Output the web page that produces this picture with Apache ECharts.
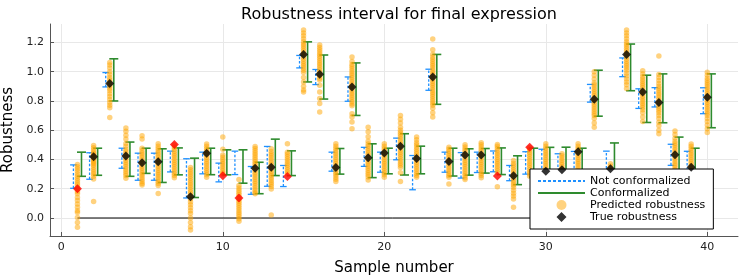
<!DOCTYPE html>
<html><head><meta charset="utf-8">
<script src="https://cdn.jsdelivr.net/npm/echarts@6/dist/echarts.min.js"></script>
<style>html,body{margin:0;padding:0;background:#fff}#c{width:747px;height:280px}</style>
</head><body><div id="c"></div>
<script>
const samples = [];
for (let s = 1; s <= 40; s++) samples.push(s);

const ncLow  = [0.203,0.265,0.896,0.340,0.258,0.258,0.315,0.137,0.302,0.247,0.297,0.162,0.217,0.215,1.026,0.912,0.320,0.798,0.353,0.313,0.398,0.193,0.873,0.313,0.273,0.311,0.316,0.255,0.300,0.310,0.290,0.310,0.792,0.280,0.966,0.749,0.759,0.360,0.270,0.713];
const ncHigh = [0.363,0.446,0.994,0.477,0.443,0.443,0.457,0.405,0.450,0.375,0.457,0.352,0.489,0.359,1.111,1.015,0.450,0.964,0.483,0.450,0.546,0.427,1.017,0.450,0.447,0.450,0.458,0.359,0.453,0.470,0.439,0.455,0.913,0.457,1.094,0.883,0.891,0.504,0.456,0.890];
const cLow   = [0.285,0.292,0.800,0.285,0.305,0.243,0.295,0.140,0.296,0.295,0.238,0.166,0.290,0.290,0.930,0.813,0.300,0.701,0.276,0.302,0.294,0.302,0.777,0.287,0.293,0.307,0.297,0.228,0.280,0.280,0.270,0.290,0.696,0.250,0.870,0.653,0.651,0.300,0.250,0.617];
const cHigh  = [0.450,0.477,1.088,0.519,0.477,0.473,0.479,0.409,0.477,0.466,0.466,0.381,0.539,0.459,1.204,1.114,0.475,1.060,0.507,0.477,0.576,0.491,1.118,0.477,0.473,0.475,0.479,0.425,0.477,0.483,0.484,0.477,1.010,0.513,1.189,0.976,0.985,0.553,0.477,0.985];
const truth  = [0.200,0.418,0.919,0.424,0.377,0.385,0.503,0.146,0.443,0.288,0.137,0.340,0.347,0.283,1.118,0.982,0.345,0.896,0.412,0.445,0.491,0.407,0.964,0.387,0.430,0.430,0.287,0.289,0.484,0.320,0.330,0.453,0.811,0.337,1.118,0.862,0.790,0.433,0.347,0.825];

const predicted = [
  [0.366,0.35,0.335,0.32,0.30,0.285,0.27,0.255,0.24,0.225,0.21,0.195,0.18,0.165,0.14,0.12,0.095,0.073,0.05,0.038,0.004,-0.03,-0.064],
  [0.496,0.48,0.465,0.45,0.44,0.43,0.42,0.41,0.40,0.39,0.38,0.37,0.36,0.345,0.33,0.315,0.30,0.285,0.267,0.112],
  [1.063,1.045,1.025,1.0,0.98,0.96,0.945,0.93,0.915,0.90,0.885,0.87,0.85,0.83,0.81,0.79,0.77,0.754,0.687],
  [0.615,0.593,0.565,0.54,0.51,0.49,0.47,0.455,0.44,0.425,0.41,0.395,0.38,0.365,0.35,0.335,0.32,0.305,0.29,0.272],
  [0.562,0.54,0.477,0.46,0.445,0.43,0.415,0.40,0.385,0.37,0.355,0.34,0.325,0.31,0.295,0.28,0.265,0.25,0.235,0.226],
  [0.507,0.49,0.475,0.46,0.445,0.43,0.415,0.40,0.385,0.37,0.355,0.34,0.325,0.31,0.295,0.28,0.265,0.25,0.235,0.222,0.167],
  [0.50,0.485,0.47,0.455,0.44,0.425,0.41,0.395,0.38,0.365,0.35,0.335,0.32,0.305,0.29,0.275],
  [0.345,0.33,0.315,0.30,0.285,0.27,0.255,0.24,0.225,0.21,0.195,0.18,0.165,0.15,0.13,0.11,0.09,0.07,0.05,0.03,0.0,-0.03,-0.06,-0.082],
  [0.505,0.49,0.475,0.46,0.445,0.43,0.415,0.40,0.385,0.37,0.355,0.34,0.325,0.31,0.295,0.279],
  [0.553,0.47,0.43,0.415,0.40,0.385,0.37,0.355,0.34,0.325,0.31,0.30],
  [0.263,0.222,0.205,0.19,0.175,0.16,0.145,0.13,0.115,0.10,0.085,0.07,0.055,0.04,0.025,0.01,-0.005,-0.023],
  [0.489,0.475,0.46,0.445,0.43,0.415,0.40,0.385,0.37,0.355,0.34,0.325,0.31,0.295,0.28,0.265,0.25,0.235,0.22,0.205,0.19,0.175,0.165],
  [0.473,0.455,0.44,0.425,0.41,0.395,0.38,0.365,0.35,0.335,0.32,0.305,0.29,0.275,0.26,0.245,0.23,0.215,0.199,0.02],
  [0.507,0.45,0.435,0.42,0.405,0.39,0.375,0.36,0.345,0.33,0.315,0.30],
  [1.285,1.265,1.245,1.225,1.205,1.19,1.175,1.16,1.145,1.13,1.115,1.10,1.085,1.07,1.055,1.04,1.025,1.01,0.995,0.96,0.93,0.90,0.875,0.861],
  [1.182,1.165,1.15,1.135,1.12,1.105,1.09,1.075,1.06,1.045,1.03,1.015,1.0,0.985,0.97,0.955,0.943,0.907,0.862,0.816,0.782,0.724],
  [0.507,0.49,0.475,0.46,0.445,0.43,0.415,0.40,0.385,0.37,0.355,0.34,0.325,0.31,0.295,0.28,0.265,0.25],
  [1.10,1.07,1.05,1.035,1.02,1.005,0.99,0.975,0.96,0.945,0.93,0.915,0.90,0.885,0.87,0.855,0.84,0.825,0.81,0.795,0.78,0.767,0.713,0.69,0.656,0.61],
  [0.621,0.59,0.555,0.525,0.505,0.49,0.475,0.46,0.445,0.43,0.415,0.40,0.385,0.37,0.355,0.34,0.325,0.31,0.295,0.28,0.26],
  [0.507,0.49,0.475,0.46,0.445,0.43,0.415,0.40,0.385,0.37,0.355,0.34,0.325,0.31,0.295,0.279],
  [0.70,0.675,0.65,0.62,0.60,0.585,0.57,0.555,0.54,0.525,0.51,0.495,0.48,0.465,0.45,0.435,0.42,0.405,0.39,0.375,0.36,0.345,0.31,0.25],
  [0.553,0.535,0.515,0.50,0.485,0.47,0.455,0.44,0.425,0.41,0.395,0.38,0.365,0.35,0.335,0.32,0.305,0.29,0.279],
  [1.223,1.15,1.12,1.10,1.085,1.07,1.055,1.04,1.025,1.01,0.995,0.98,0.965,0.95,0.935,0.92,0.905,0.89,0.875,0.86,0.845,0.83,0.815,0.80,0.785,0.77,0.75,0.72,0.69],
  [0.484,0.47,0.455,0.44,0.425,0.41,0.395,0.38,0.365,0.35,0.335,0.32,0.305,0.29,0.279,0.233],
  [0.50,0.485,0.47,0.455,0.44,0.425,0.41,0.395,0.38,0.365,0.35,0.335,0.32,0.305,0.29,0.275,0.263],
  [0.514,0.50,0.485,0.47,0.455,0.44,0.425,0.41,0.395,0.38,0.365,0.35,0.335,0.32,0.305,0.29,0.275],
  [0.503,0.49,0.475,0.46,0.445,0.43,0.415,0.40,0.385,0.37,0.355,0.34,0.325,0.31,0.213],
  [0.393,0.375,0.36,0.345,0.33,0.315,0.30,0.285,0.27,0.255,0.24,0.225,0.21,0.19,0.17,0.15,0.13,0.073],
  [0.48,0.465,0.45,0.435,0.42,0.405,0.39,0.375,0.36,0.345,0.33,0.315,0.30,0.285],
  [0.507,0.49,0.475,0.46,0.445,0.43,0.415,0.40,0.385,0.37,0.355,0.34,0.325,0.31,0.295,0.28],
  [0.439,0.425,0.41,0.395,0.38,0.365,0.35,0.335,0.32,0.305,0.29],
  [0.507,0.49,0.475,0.46,0.445,0.43,0.415,0.40,0.385,0.37,0.355,0.34,0.325,0.31,0.295],
  [0.999,0.975,0.95,0.925,0.91,0.895,0.88,0.865,0.85,0.835,0.82,0.805,0.79,0.775,0.76,0.745,0.73,0.715,0.70,0.68,0.65,0.621],
  [0.37,0.355,0.34,0.325,0.31,0.295,0.28],
  [1.285,1.265,1.245,1.225,1.205,1.19,1.175,1.16,1.145,1.13,1.115,1.10,1.085,1.07,1.055,1.04,1.025,1.01,0.99,0.97,0.95,0.93,0.91,0.885],
  [1.006,0.985,0.965,0.95,0.935,0.92,0.905,0.89,0.875,0.86,0.845,0.83,0.815,0.80,0.785,0.77,0.755,0.74,0.72,0.69,0.66],
  [1.108,0.981,0.96,0.94,0.92,0.90,0.885,0.87,0.855,0.84,0.825,0.81,0.795,0.78,0.765,0.75,0.735,0.72,0.70,0.68,0.655,0.63,0.60,0.576],
  [0.595,0.57,0.545,0.525,0.51,0.495,0.48,0.465,0.45,0.435,0.42,0.405,0.39,0.375,0.36,0.345,0.33,0.315,0.30],
  [0.505,0.49,0.475,0.46,0.445,0.43,0.415,0.40,0.385,0.37,0.355,0.34,0.325,0.31,0.295,0.28],
  [0.997,0.975,0.955,0.94,0.925,0.91,0.895,0.88,0.865,0.85,0.835,0.82,0.805,0.79,0.775,0.76,0.745,0.73,0.715,0.70,0.68,0.66,0.635,0.61,0.585]
];

const xTicks = [0, 10, 20, 30, 40];
const yTicks = [0, 0.2, 0.4, 0.6, 0.8, 1.0, 1.2];
const zeroLine = [[1, 0], [40, 0]];

const BLUE = '#1E90FF', GREEN = '#2E8B2E', ORANGE = '#FFA500';
const FONT = 'DejaVu Sans';
// legend icon: a diamond centred in a 47x10 box (tiny edge points fix the box size)
const DIAMOND_ICON = 'path://M0,5L0.01,5L0,5.01Z M47,5L46.99,5L47,5.01Z M18.5,5L23.5,0L28.5,5L23.5,10Z';

function errorBar(offset, capHalf, color, width, dash) {
  return function (params, api) {
    const x = api.value(0) + offset;
    const lo = api.coord([x, api.value(1)]);
    const hi = api.coord([x, api.value(2)]);
    const cap = (p) => ({ type: 'line', shape: { x1: p[0] - capHalf, y1: p[1], x2: p[0] + capHalf, y2: p[1] },
      style: { stroke: color, lineWidth: width } });
    return { type: 'group', children: [
      { type: 'line', shape: { x1: lo[0], y1: lo[1], x2: hi[0], y2: hi[1] },
        style: { stroke: color, lineWidth: width, lineDash: dash } },
      cap(lo), cap(hi)
    ] };
  };
}

const ncData = samples.map((s, i) => [s, ncLow[i], ncHigh[i]]);
const cData = samples.map((s, i) => [s, cLow[i], cHigh[i]]);
const predData = [];
predicted.forEach((arr, i) => arr.forEach(v => predData.push([samples[i], v])));
const truthData = samples.map((s, i) => {
  const outside = truth[i] < cLow[i] || truth[i] > cHigh[i];
  return { value: [s, truth[i]], itemStyle: { color: outside ? '#FF0000' : '#000000' } };
});

const chart = echarts.init(document.getElementById('c'), null, { renderer: 'canvas' });
chart.setOption({
  animation: false,
  backgroundColor: '#fff',
  title: {
    text: 'Robustness interval for final expression',
    left: 394, top: 2, textAlign: 'center',
    textStyle: { fontFamily: FONT, fontSize: 16, fontWeight: 'normal', color: '#000' }
  },
  grid: { left: 50, right: 9, top: 24, bottom: 44, containLabel: false, outerBoundsMode: 'none' },
  legend: {
    orient: 'vertical', left: 530, top: 169,
    padding: [6, 8, 6, 7], itemGap: 0, itemWidth: 47, itemHeight: 10,
    backgroundColor: '#fff', borderColor: '#000', borderWidth: 1, borderRadius: 0,
    textStyle: { fontFamily: FONT, fontSize: 11, color: '#000', lineHeight: 12 },
    data: [
      { name: 'Not conformalized', itemStyle: { opacity: 0 } },
      { name: 'Conformalized', itemStyle: { opacity: 0 } },
      { name: 'Predicted robustness' },
      { name: 'True robustness', icon: DIAMOND_ICON }
    ]
  },
  xAxis: {
    type: 'value', min: -0.7, max: 41.9,
    name: 'Sample number', nameLocation: 'middle', nameGap: 25,
    nameTextStyle: { fontFamily: FONT, fontSize: 15, color: '#000' },
    axisLine: { show: true, onZero: false, lineStyle: { color: '#555', width: 1 } },
    axisTick: { show: true, inside: true, length: 4, customValues: xTicks, lineStyle: { color: '#555' } },
    axisLabel: { customValues: xTicks, fontFamily: FONT, fontSize: 11, color: '#222', margin: 6 },
    splitLine: { show: true, lineStyle: { color: '#e8e8e8', width: 1 } }
  },
  yAxis: {
    type: 'value', min: -0.123, max: 1.326,
    name: 'Robustness', nameLocation: 'middle', nameGap: 29, nameRotate: 90,
    nameTextStyle: { fontFamily: FONT, fontSize: 15, color: '#000' },
    axisLine: { show: true, onZero: false, lineStyle: { color: '#555', width: 1 } },
    axisTick: { show: true, inside: true, length: 4, customValues: yTicks, lineStyle: { color: '#555' } },
    axisLabel: { customValues: yTicks, fontFamily: FONT, fontSize: 11, color: '#222', margin: 6,
      formatter: v => v.toFixed(1) },
    splitLine: { show: true, lineStyle: { color: '#e8e8e8', width: 1 } }
  },
  series: [
    { name: 'zero', type: 'line', data: zeroLine, symbol: 'none', z: 1,
      lineStyle: { color: '#000', width: 1 }, silent: true },
    { name: 'nc_bars', type: 'custom', data: ncData, encode: { x: 0, y: [1, 2] }, z: 2,
      renderItem: errorBar(-0.25, 3.3, BLUE, 1.3, [2.5, 1.8]) },
    { name: 'c_bars', type: 'custom', data: cData, encode: { x: 0, y: [1, 2] }, z: 2,
      renderItem: errorBar(0.25, 4.5, GREEN, 1.6, null) },
    { name: 'Predicted robustness', type: 'scatter', data: predData, symbol: 'circle', symbolSize: 5.5, z: 3,
      itemStyle: { color: ORANGE, opacity: 0.5 } },
    { name: 'True robustness', type: 'scatter', data: truthData, symbol: 'diamond', symbolSize: 9, z: 4,
      itemStyle: { color: '#000' } },
    { name: 'Not conformalized', type: 'line', data: [], symbol: 'none', showSymbol: false,
      lineStyle: { color: BLUE, width: 1.3, type: [3, 2] }, itemStyle: { color: BLUE } },
    { name: 'Conformalized', type: 'line', data: [], symbol: 'none', showSymbol: false,
      lineStyle: { color: GREEN, width: 1.6 }, itemStyle: { color: GREEN } }
  ]
});
</script></body></html>
